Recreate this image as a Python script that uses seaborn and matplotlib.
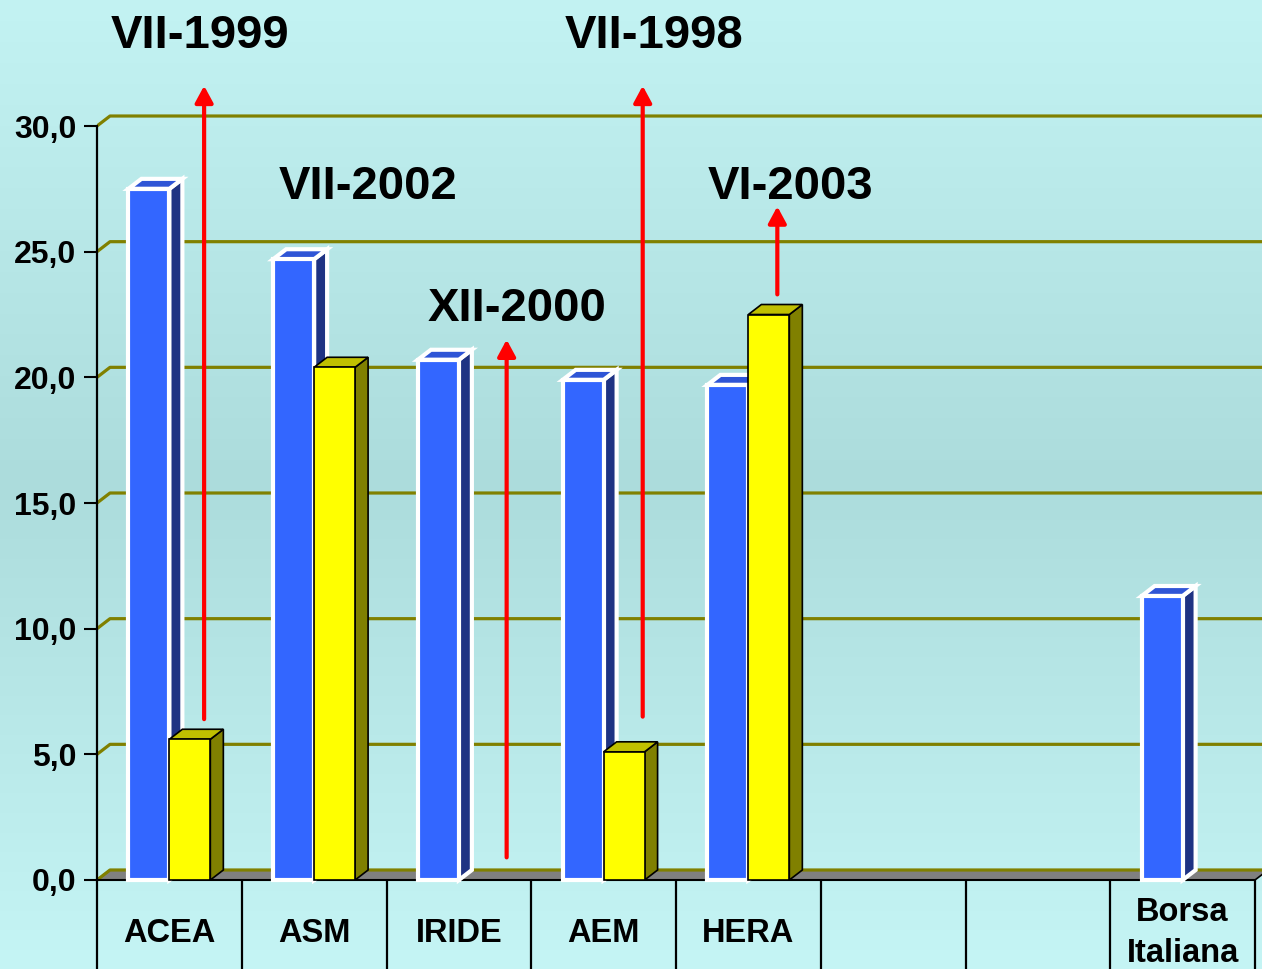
import numpy as np
import pandas as pd
import matplotlib
matplotlib.use("Agg")
import matplotlib.pyplot as plt
from matplotlib.patches import Polygon
import seaborn as sns

# ─── Data ─────────────────────────────────────────────────────────────────────
categories = ["ACEA", "ASM", "IRIDE", "AEM", "HERA", "", " ", "Borsa\nItaliana"]
blue_vals = [27.5, 24.7, 20.7, 19.9, 19.7, np.nan, np.nan, 11.3]
yellow_vals = [5.6, 20.4, np.nan, 5.1, 22.5, np.nan, np.nan, np.nan]
series = ["blue", "yellow"]

y_ticks = [0, 5, 10, 15, 20, 25, 30]
y_tick_labels = ["0,0", "5,0", "10,0", "15,0", "20,0", "25,0", "30,0"]

# red arrows (x position, start value, end value)
arrow_x = [0.24, 2.33, 3.27, 4.20]
arrow_from = [6.4, 0.9, 6.5, 23.3]
arrow_to = [31.6, 21.5, 31.6, 26.8]

# date labels
note_text = ["VII-1999", "VII-2002", "XII-2000", "VII-1998", "VI-2003"]
note_x = [0.21, 1.37, 2.40, 3.35, 4.29]
note_y = [33.58, 27.58, 22.7, 33.58, 27.58]

df = pd.DataFrame({
    "category": categories * 2,
    "series": ["blue"] * len(categories) + ["yellow"] * len(categories),
    "value": blue_vals + yellow_vals,
}).dropna()

# ─── Style ────────────────────────────────────────────────────────────────────
sns.set_style("white")
plt.rcParams["font.family"] = ["Liberation Sans", "DejaVu Sans"]
plt.rcParams["font.weight"] = "bold"
plt.rcParams["text.color"] = "black"
plt.rcParams["ytick.color"] = "black"
plt.rcParams["ytick.labelcolor"] = "black"

W, H = 1262, 969
fig = plt.figure(figsize=(W / 100, H / 100), dpi=100)

# background gradient over the whole slide
bg = fig.add_axes([0, 0, 1, 1])
rows = np.arange(H)
stops_y = [0, 480, H]
stops_c = np.array([[195, 243, 243], [172, 220, 220], [197, 245, 245]]) / 255
grad = np.stack([np.interp(rows, stops_y, stops_c[:, k]) for k in range(3)], axis=1)
bg.imshow(grad[:, None, :], aspect="auto", extent=(0, 1, 0, 1))
bg.set_axis_off()

left = 97 / W
ax = fig.add_axes([left, 0, 1 - left, 1])
ax.patch.set_alpha(0)
XMAX = -0.5 + (W - 97) / 144.75
YMIN, YMAX = -89 / 25.133, 880 / 25.133
DX, DY = 13 / 144.75, 10 / 25.133

sns.barplot(data=df, x="category", y="value", hue="series", order=categories,
            hue_order=series, palette={"blue": "#3366ff", "yellow": "#ffff00"},
            width=0.566, dodge=True, saturation=1, errorbar=None, legend=False,
            ax=ax)
bars = list(ax.patches)

ax.set_xlim(-0.5, XMAX)
ax.set_ylim(YMIN, YMAX)

# floor and back-wall gridlines
ax.add_patch(Polygon([(-0.5, 0), (7.5, 0), (7.5 + DX, DY), (-0.5 + DX, DY)],
                     closed=True, facecolor="#808080", edgecolor="black",
                     linewidth=1.2, zorder=1.5))
for v in y_ticks:
    ax.plot([-0.5, -0.5 + DX, XMAX + 0.1], [v, v + DY, v + DY],
            color="#808000", lw=2.3, zorder=2, solid_capstyle="butt")
ax.plot([-0.5, 7.5], [0, 0], color="black", lw=1.5, zorder=2.5)

# 3D faces built on top of seaborn's bars
faces = {
    "blue": dict(top="#2f55d6", side="#1f3383", edge="white", lw=3.0, z=3),
    "yellow": dict(top="#c0c000", side="#808000", edge="black", lw=1.2, z=4),
}
for b in bars:
    r, g, _, _ = b.get_facecolor()
    key = "yellow" if r > 0.9 and g > 0.9 else "blue"
    st = faces[key]
    x0, w, h = b.get_x(), b.get_width(), b.get_height()
    b.set_edgecolor(st["edge"])
    b.set_linewidth(st["lw"])
    b.set_zorder(st["z"] + 0.2)
    b.set_joinstyle("miter")
    side = Polygon([(x0 + w, 0), (x0 + w + DX, DY), (x0 + w + DX, h + DY), (x0 + w, h)],
                   closed=True, facecolor=st["side"], edgecolor=st["edge"],
                   linewidth=st["lw"], zorder=st["z"], joinstyle="miter")
    top = Polygon([(x0, h), (x0 + DX, h + DY), (x0 + w + DX, h + DY), (x0 + w, h)],
                  closed=True, facecolor=st["top"], edgecolor=st["edge"],
                  linewidth=st["lw"], zorder=st["z"], joinstyle="miter")
    ax.add_patch(side)
    ax.add_patch(top)

# category table below the floor
ax.vlines([i + 0.5 for i in range(len(categories))], YMIN, 0,
          color="black", lw=1.6, zorder=2)
for i, name in enumerate(categories):
    ax.text(i, -2.12, name, ha="center", va="center", fontsize=23.5,
            fontweight="bold", linespacing=1.4, zorder=6)

# y axis
sns.despine(ax=ax, left=False, bottom=True)
ax.spines["left"].set_bounds(YMIN, 30)
ax.spines["left"].set_linewidth(1.6)
ax.spines["left"].set_color("black")
ax.set_yticks(y_ticks)
ax.set_yticklabels(y_tick_labels, fontsize=23, fontweight="bold", color="black")
ax.tick_params(axis="y", direction="out", length=9.5, width=1.5, pad=5.5,
               left=True, colors="black")
ax.set_xticks([])
ax.set_xlabel("")
ax.set_ylabel("")

# red arrows and date labels
for x, y0, y1 in zip(arrow_x, arrow_from, arrow_to):
    ax.annotate("", xy=(x, y1), xytext=(x, y0),
                arrowprops=dict(arrowstyle="-|>,head_length=0.5,head_width=0.27",
                                color="#ff0000", lw=3, shrinkA=0, shrinkB=0,
                                mutation_scale=20),
                zorder=7, annotation_clip=False)
for t, x, y in zip(note_text, note_x, note_y):
    ax.text(x, y, t, ha="center", va="center", fontsize=34,
            fontweight="bold", color="black", zorder=8)

fig.savefig("out.png", dpi=100)
